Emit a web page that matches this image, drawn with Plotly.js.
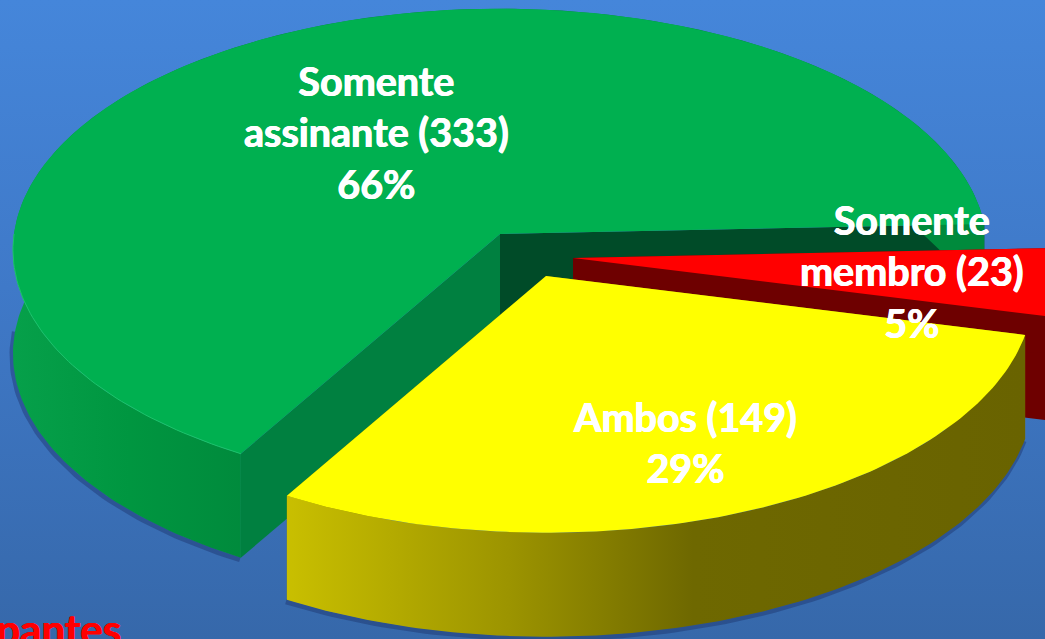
<!DOCTYPE html>
<html>
<head>
<meta charset="utf-8">
<script src="https://cdn.plot.ly/plotly-3.0.1.min.js"></script>
<style>
html,body{margin:0;padding:0;width:1045px;height:639px;overflow:hidden;background:linear-gradient(180deg,#4586da 0%,#3f79c8 45%,#3668aa 100%);}
#chart{width:1045px;height:639px;}
</style>
</head>
<body>
<div id="chart"></div>
<script>
// Data
const categories = ["Somente assinante", "Ambos", "Somente membro"];
const labelLines = [["Somente", "assinante"], ["Ambos"], ["Somente", "membro"]];
const counts = [333, 149, 23];
const percentLabels = ["66%", "29%", "5%"];
const clippedCaption = "Participantes";

// Projection of the tilted disc
const RX = 486, RY = 240, PERSPECTIVE = 0.065, DEPTH = 104, START_DEG = 2.4;
const apexes = [[500, 234], [546, 276], [573, 258]];
const topColors = ["#00b050", "#ffff00", "#ff0000"];
const endWall = ["#008040", "#8a8600", "#6e0000"];
const startWall = ["#004b28", "#6a6400", "#6e0000"];
const wallScales = [
  [[0, "#06a04a"], [0.12, "#009640"], [0.24, "#008a3c"], [1, "#008a3c"]],
  [[0, "#c9bf00"], [0.3, "#9c9400"], [0.55, "#6e6800"], [1, "#696300"]],
  [[0, "#800000"], [1, "#800000"]]
];
const labelPos = [[376, 132], [685, 442], [912, 271]];

const total = counts.reduce((a, b) => a + b, 0);

function project(apex, deg, down) {
  const t = deg * Math.PI / 180, u = Math.cos(t), v = -Math.sin(t);
  const f = 1 / (1 - PERSPECTIVE * v);
  return [apex[0] + RX * u * f, apex[1] + RY * v * f + (down || 0)];
}
function arc(apex, a0, a1, down) {
  const pts = [], n = Math.ceil(Math.abs(a1 - a0));
  for (let i = 0; i <= n; i++) pts.push(project(apex, a0 + (a1 - a0) * i / n, down));
  return pts;
}
function polyTrace(name, pts, extra) {
  return Object.assign({
    type: "scatter", mode: "lines", name: name,
    x: pts.map(p => p[0]), y: pts.map(p => p[1]),
    fill: "toself", line: {width: 0}, hoverinfo: "skip", showlegend: false
  }, extra);
}
function lineTrace(name, pts, color, width) {
  return {type: "scatter", mode: "lines", name: name,
    x: pts.map(p => p[0]), y: pts.map(p => p[1]),
    line: {color: color, width: width}, hoverinfo: "skip", showlegend: false};
}

const traces = [];
let angle = START_DEG;
const spans = counts.map(c => {
  const s = [angle, angle + c / total * 360];
  angle = s[1];
  return s;
});
// paint order: green, red, yellow
[0, 2, 1].forEach(i => {
  const [a0, a1] = spans[i], apex = apexes[i], name = categories[i];
  const below = [apex[0], apex[1] + DEPTH];
  // soft shadow below the outer wall
  const shadowFrom = Math.max(a0, 178);
  traces.push(lineTrace(name + " shadow", arc([apex[0] - 1, apex[1] + 2], shadowFrom, a1, DEPTH), "rgba(25,45,100,0.4)", 5));
  // flat faces along the cuts
  traces.push(polyTrace(name + " start wall", [apex, project(apex, a0), project(apex, a0, DEPTH), below, apex], {fillcolor: startWall[i]}));
  traces.push(polyTrace(name + " end wall", [apex, project(apex, a1), project(apex, a1, DEPTH), below, apex], {fillcolor: endWall[i]}));
  // curved outer wall
  const wall = arc(apex, a0, a1, 0).concat(arc(apex, a1, a0, DEPTH));
  wall.push(wall[0]);
  traces.push(polyTrace(name + " outer wall", wall, {
    fillgradient: {type: "horizontal", colorscale: wallScales[i]}
  }));
  // top face
  const top = [apex].concat(arc(apex, a0, a1, 0), [apex]);
  traces.push(polyTrace(name, top, {fillcolor: topColors[i]}));
  // faint highlight on the green rim
  if (i === 0) traces.push(lineTrace(name + " rim", arc(apex, 180, a1, 0), "#1cc46a", 1));
});

const thicken = "0.5px 0 0 #ffffff, -0.5px 0 0 #ffffff";
const font = {family: "Lato, 'Open Sans', sans-serif", size: 39.5, color: "#ffffff", weight: 700, shadow: thicken};
const annotations = categories.map((c, i) => ({
  x: labelPos[i][0], y: labelPos[i][1], xref: "x", yref: "y", showarrow: false,
  xanchor: "center", yanchor: "middle", align: "center",
  text: labelLines[i].map((l, k) => k === labelLines[i].length - 1 ? l + " (" + counts[i] + ")" : l).join("<br>") + "<br>" + percentLabels[i],
  font: font
}));
annotations.push({
  x: 123, y: 602, xref: "x", yref: "y", showarrow: false, xanchor: "right", yanchor: "top",
  text: clippedCaption, font: {family: font.family, size: 42, color: "#ff0000", weight: 700, shadow: "0.5px 0 0 #ff0000, -0.5px 0 0 #ff0000"}
});

const hidden = {visible: false, fixedrange: true};
Plotly.newPlot("chart", traces, {
  width: 1045, height: 639,
  margin: {l: 0, r: 0, t: 0, b: 0},
  paper_bgcolor: "rgba(0,0,0,0)", plot_bgcolor: "rgba(0,0,0,0)",
  xaxis: Object.assign({range: [0, 1045]}, hidden),
  yaxis: Object.assign({range: [639, 0]}, hidden),
  annotations: annotations
}, {staticPlot: true, displayModeBar: false});
</script>
</body>
</html>
